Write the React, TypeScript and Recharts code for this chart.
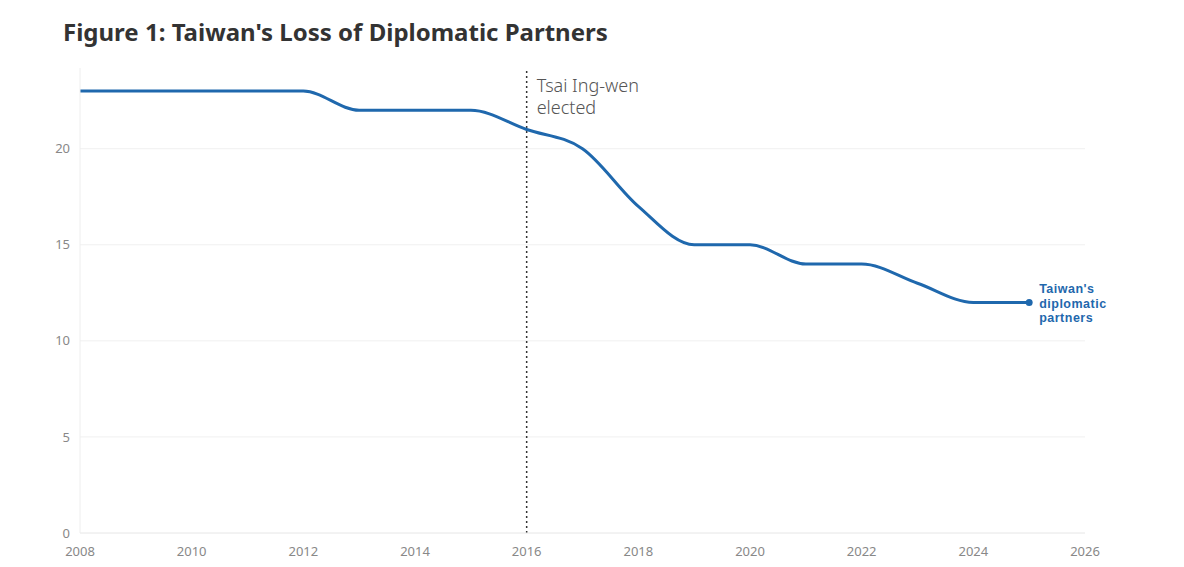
import React from "react";
import { LineChart, Line, XAxis, YAxis, ReferenceLine, LabelList } from "recharts";

const years = [2008, 2009, 2010, 2011, 2012, 2013, 2014, 2015, 2016, 2017, 2018, 2019, 2020, 2021, 2022, 2023, 2024, 2025];
const partners = [23, 23, 23, 23, 23, 22, 22, 22, 21, 20, 17, 15, 15, 14, 14, 13, 12, 12];
const xTicks = [2008, 2010, 2012, 2014, 2016, 2018, 2020, 2022, 2024, 2026];
const yTicks = [0, 5, 10, 15, 20];
const gridValues = [5, 10, 15, 20];
const title = "Figure 1: Taiwan's Loss of Diplomatic Partners";
const seriesLabel = ["Taiwan's", "diplomatic", "partners"];
const eventYear = 2016;
const eventLabel = ["Tsai Ing-wen", "elected"];

const data = years.map((y, i) => ({ year: y, value: partners[i] }));

const FONT = "'Noto Sans', 'Open Sans', sans-serif";
const LABEL_FONT = "'Liberation Sans', Arial, sans-serif";
const BLUE = "#1f68ad";

const EndDot = (props: any) => {
  const { cx, cy, index } = props;
  if (index !== data.length - 1) return <g key={index} />;
  return <circle key={index} cx={cx} cy={cy} r={3.5} fill={BLUE} stroke="none" />;
};

const EndLabel = (props: any) => {
  const { x, y, index } = props;
  if (index !== data.length - 1) return null;
  return (
    <text x={x + 10} y={y - 9} fill={BLUE} fontSize={12.5} fontWeight={700} fontFamily={LABEL_FONT} letterSpacing={0.5}>
      {seriesLabel.map((s, i) => (
        <tspan key={i} x={x + 10} dy={i === 0 ? 0 : 14.4}>{s}</tspan>
      ))}
    </text>
  );
};

const EventLabel = (props: any) => {
  const { viewBox } = props;
  const x = viewBox.x + 10;
  const y = viewBox.y + 24;
  return (
    <text x={x} y={y} fill="#555" fontSize={18} fontWeight={300} fontFamily={FONT}>
      {eventLabel.map((s, i) => (
        <tspan key={i} x={x} dy={i === 0 ? 0 : 22}>{s}</tspan>
      ))}
    </text>
  );
};

export default function App() {
  return (
    <div style={{ position: "absolute", left: 0, top: 0, width: 1184, height: 567, background: "#fff" }}>
      <div
        style={{
          position: "absolute",
          left: 63,
          top: 15,
          fontFamily: FONT,
          fontWeight: 700,
          fontSize: 24,
          color: "#333",
          whiteSpace: "nowrap",
        }}
      >
        {title}
      </div>
      <LineChart
        width={1184}
        height={567}
        data={data}
        margin={{ top: 68, right: 99, left: 0, bottom: 4 }}
      >
        {gridValues.map((v) => (
          <ReferenceLine key={v} y={v} stroke="#f0f0f0" strokeWidth={1} />
        ))}
        <XAxis
          dataKey="year"
          type="number"
          domain={[2008, 2026]}
          ticks={xTicks}
          axisLine={{ stroke: "#e6e6e6" }}
          tickLine={false}
          tick={{ fill: "#888", fontSize: 13, fontFamily: FONT }}
          tickMargin={8}
          height={30}
        />
        <YAxis
          type="number"
          domain={[0, 24.2]}
          ticks={yTicks}
          axisLine={{ stroke: "#eeeeee" }}
          tickLine={false}
          tick={{ fill: "#888", fontSize: 13, fontFamily: FONT }}
          tickMargin={4}
          width={80}
        />
        <ReferenceLine
          x={eventYear}
          stroke="#333"
          strokeWidth={1.5}
          strokeDasharray="2 3"
          label={<EventLabel />}
        />
        <Line
          type="monotone"
          dataKey="value"
          stroke={BLUE}
          strokeWidth={3}
          dot={<EndDot />}
          activeDot={false}
          isAnimationActive={false}
        >
          <LabelList dataKey="value" content={<EndLabel />} />
        </Line>
      </LineChart>
    </div>
  );
}
